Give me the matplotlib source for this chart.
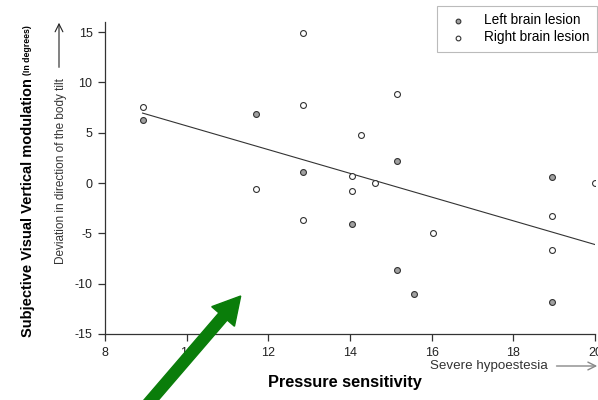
import numpy as np
import matplotlib
matplotlib.use('Agg')
import matplotlib.pyplot as plt
from matplotlib.patches import FancyArrow

plt.rcParams['font.family'] = ['Liberation Sans', 'DejaVu Sans']
plt.rcParams['axes.unicode_minus'] = False

# |~~~~~~~~~~| Daten |~~~~~~~~~~|
left_x = [8.92, 11.69, 12.85, 14.05, 15.16, 15.16, 15.56, 18.95, 18.95]
left_y = [6.3, 6.9, 1.1, -4.1, 2.15, -8.65, -11.05, 0.63, -11.8]

right_x = [8.92, 11.69, 12.85, 12.85, 12.85, 14.06, 14.06, 14.27, 14.62, 15.16, 16.03, 18.95, 18.95, 19.99]
right_y = [7.58, -0.57, 14.9, 7.75, -3.67, 0.73, -0.76, 4.8, -0.03, 8.8, -5.0, -3.25, -6.65, -0.03]

fit_x = [8.92, 19.99]
fit_y = [6.95, -6.1]

x_ticks = [8, 10, 12, 14, 16, 18, 20]
y_ticks = [-15, -10, -5, 0, 5, 10, 15]

# |~~~~~~~~~~| Figur |~~~~~~~~~~|
fig = plt.figure(figsize=(5.98, 4.0), dpi=100)
ax = fig.add_axes([105 / 598, 1 - 334 / 400, 490 / 598, (334 - 22) / 400])

ax.plot(fit_x, fit_y, color='#333333', linewidth=0.8)
ax.scatter(left_x, left_y, s=18, facecolor='#a0a0a0', edgecolor='#333333', linewidth=0.8,
           label='Left brain lesion', zorder=3)
ax.scatter(right_x, right_y, s=18, facecolor='white', edgecolor='#333333', linewidth=0.8,
           label='Right brain lesion', zorder=3)

ax.set_xlim(8, 20)
ax.set_ylim(-15, 16)
ax.set_xticks(x_ticks)
ax.set_yticks(y_ticks)
ax.spines['top'].set_visible(False)
ax.spines['right'].set_visible(False)
for s in ['left', 'bottom']:
    ax.spines[s].set_color('#333333')
    ax.spines[s].set_linewidth(0.9)
ax.tick_params(direction='out', length=5, width=0.9, color='#333333',
               labelsize=9, labelcolor='#222222', pad=4)

leg = ax.legend(loc='upper right', bbox_to_anchor=(597 / 598, 1 - 6 / 400),
                bbox_transform=fig.transFigure, fontsize=9.8, frameon=True,
                fancybox=False, edgecolor='#aaaaaa', handletextpad=0.9,
                borderpad=0.55, labelspacing=0.2, markerscale=0.8, borderaxespad=0)
leg.get_frame().set_linewidth(0.8)

# Achsenbeschriftungen
t1 = fig.text(28 / 598, 1 - 337 / 400, 'Subjective Visual Vertical modulation', rotation=90,
              ha='center', va='bottom', fontsize=10.5, fontweight='bold')
fig.canvas.draw()
bb = t1.get_window_extent()
fig.text(28 / 598, (bb.y1 + 3) / 400, '(In degrees)', rotation=90,
         ha='center', va='bottom', fontsize=6.3, fontweight='bold')

t2 = fig.text(61 / 598, 1 - 264 / 400, 'Deviation in direction of the body tilt', rotation=90,
              ha='center', va='bottom', fontsize=8.5, color='#333333')
fig.canvas.draw()
bb2 = t2.get_window_extent()
ax.annotate('', xy=(59, 400 - 20), xytext=(59, bb2.y1 + 8),
            xycoords='figure pixels', textcoords='figure pixels',
            arrowprops=dict(arrowstyle='->', color='#222222', lw=0.8,
                            mutation_scale=14))

fig.text(345 / 598, 1 - 382 / 400, 'Pressure sensitivity', ha='center', va='center',
         fontsize=11.8, fontweight='bold')
t3 = fig.text(430 / 598, 1 - 366 / 400, 'Severe hypoestesia', ha='left', va='center',
              fontsize=9.6, color='#333333')
fig.canvas.draw()
bb3 = t3.get_window_extent()
ax.annotate('', xy=(600, 400 - 366), xytext=(bb3.x1 + 6, 400 - 366),
            xycoords='figure pixels', textcoords='figure pixels',
            arrowprops=dict(arrowstyle='->', color='#888888', lw=1.0,
                            mutation_scale=14))

# gruenes Pfeil
arr = FancyArrow(1.40, -0.13, 1.007, 1.17, width=0.11, head_width=0.30, head_length=0.27,
                 length_includes_head=True, color='#0a7d0a', transform=fig.dpi_scale_trans)
fig.patches.append(arr)

fig.savefig('out.png', dpi=100)
